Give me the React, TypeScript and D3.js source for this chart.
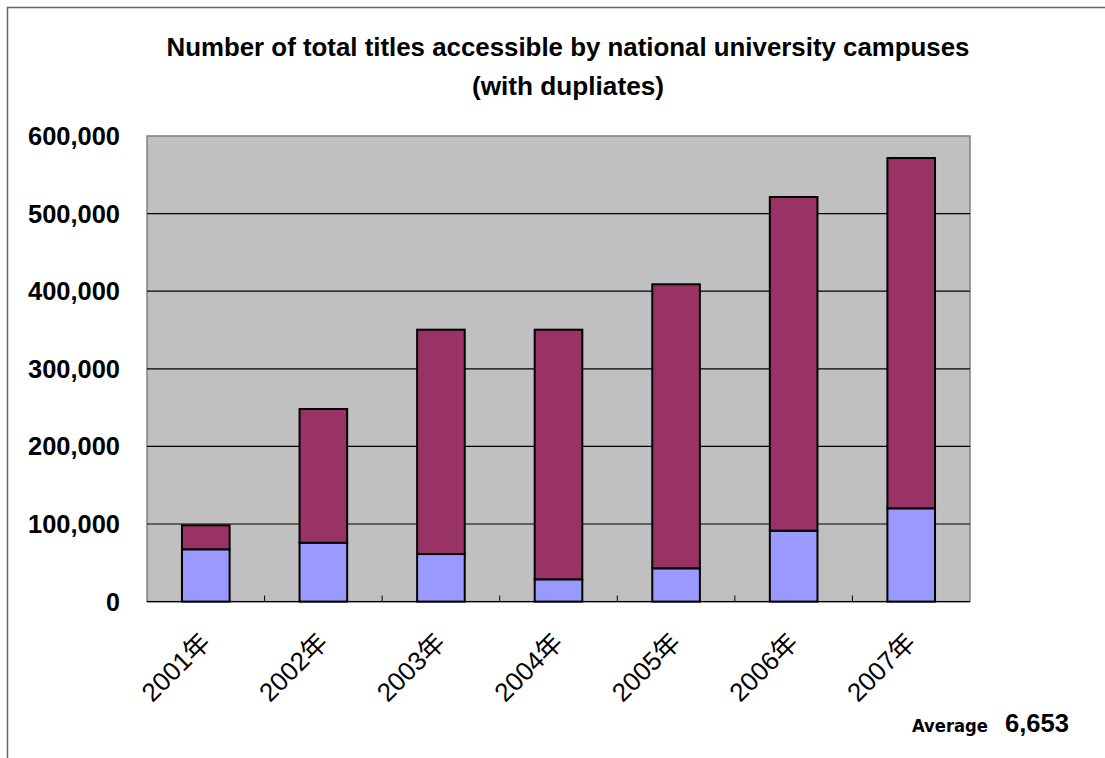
import React from "react";
import * as d3 from "d3";

const categories = ["2001年", "2002年", "2003年", "2004年", "2005年", "2006年", "2007年"];
const baseValues = [67400, 75900, 61300, 28700, 42900, 91400, 120200];
const totalValues = [98300, 248200, 350400, 350400, 408900, 521400, 571600];
const yTicks = [0, 100000, 200000, 300000, 400000, 500000, 600000];
const titleLines = ["Number of total titles accessible by national university campuses", "(with dupliates)"];
const noteLabel = "Average";
const noteValue = "6,653";

const W = 1105;
const H = 758;
const plot = { left: 147, top: 136, right: 970, bottom: 601.6 };

export default function App() {
  const x = d3.scaleBand<string>().domain(categories).range([plot.left, plot.right]).paddingInner(0.595).paddingOuter(0.2975);
  const xOuter = d3.scaleBand<string>().domain(categories).range([plot.left, plot.right]);
  const y = d3.scaleLinear().domain([0, 600000]).range([plot.bottom, plot.top]);
  const fmt = d3.format(",");
  const stacks = categories.map((c, i) => ({ c, base: baseValues[i], top: totalValues[i] - baseValues[i] }));

  return (
    <svg width={W} height={H} style={{ position: "absolute", left: 0, top: 0, background: "#fff" }}>
      <rect x={7.5} y={7.5} width={1120} height={780} fill="#fff" stroke="#666" strokeWidth={1.5} />
      {titleLines.map((t, i) => (
        <text key={i} x={568} y={56 + i * 39} textAnchor="middle" fontFamily="Liberation Sans, Arial, sans-serif" fontWeight="bold" fontSize={25}
          textLength={i === 0 ? 803 : 192} lengthAdjust="spacingAndGlyphs">{t}</text>
      ))}
      <rect x={plot.left} y={plot.top} width={plot.right - plot.left} height={plot.bottom - plot.top} fill="#C0C0C0" stroke="#808080" strokeWidth={1.5} />
      {yTicks.filter(v => v > 0 && v < 600000).map(v => (
        <line key={v} x1={plot.left} x2={plot.right} y1={y(v)} y2={y(v)} stroke="#000" strokeWidth={1.2} />
      ))}
      {yTicks.map(v => (
        <text key={"t" + v} x={120} y={y(v) + 9} textAnchor="end" fontFamily="Liberation Sans, Arial, sans-serif" fontWeight="bold" fontSize={25}
          textLength={v === 0 ? undefined : 92} lengthAdjust="spacingAndGlyphs">{fmt(v)}</text>
      ))}
      {categories.slice(1).map(c => (
        <line key={"tk" + c} x1={xOuter(c)!} x2={xOuter(c)!} y1={plot.bottom} y2={plot.bottom - 6} stroke="#000" strokeWidth={1} />
      ))}
      <line x1={plot.left} x2={plot.right} y1={plot.bottom} y2={plot.bottom} stroke="#000" strokeWidth={1.2} />
      {stacks.map(s => (
        <g key={s.c}>
          <rect x={x(s.c)!} y={y(s.base)} width={x.bandwidth()} height={y(0) - y(s.base)} fill="#9999FF" stroke="#000" strokeWidth={2} />
          <rect x={x(s.c)!} y={y(s.base + s.top)} width={x.bandwidth()} height={y(s.base) - y(s.base + s.top)} fill="#993366" stroke="#000" strokeWidth={2} />
        </g>
      ))}
      {categories.map(c => {
        const cx = xOuter(c)! + xOuter.bandwidth() / 2 + 6;
        const cy = 644;
        return (
          <text key={"xl" + c} x={cx} y={cy} transform={`rotate(-45 ${cx} ${cy})`} textAnchor="end"
            fontFamily="Liberation Sans, Noto Sans CJK JP, sans-serif" fontSize={26}>{c}</text>
        );
      })}
      <text x={912} y={732} fontFamily="DejaVu Sans, sans-serif" fontWeight="bold" fontSize={18} textLength={76} lengthAdjust="spacingAndGlyphs">{noteLabel}</text>
      <text x={1005} y={732} fontFamily="Liberation Sans, Arial, sans-serif" fontWeight="bold" fontSize={25} textLength={64} lengthAdjust="spacingAndGlyphs">{noteValue}</text>
    </svg>
  );
}
